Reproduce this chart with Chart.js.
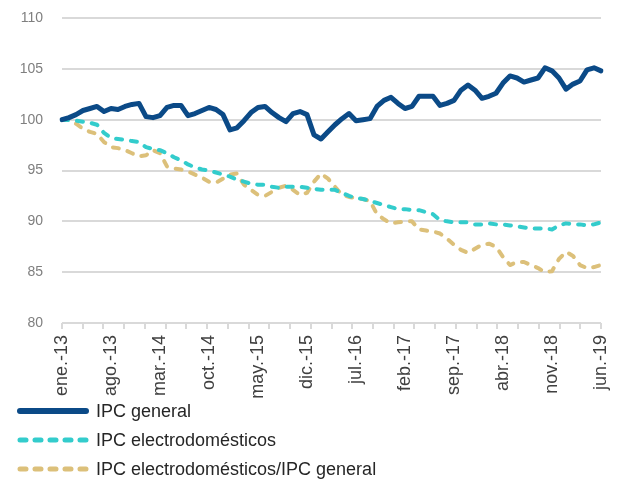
<!DOCTYPE html>
<html>
<head>
<meta charset="utf-8">
<script src="https://cdn.jsdelivr.net/npm/chart.js@4/dist/chart.umd.min.js"></script>
<style>
  html, body { margin: 0; padding: 0; background: #fff; }
</style>
</head>
<body>
<canvas id="chart" width="617" height="481"></canvas>
<script>
// ---- data ----
const monthNames = ["ene.", "feb.", "mar.", "abr.", "may.", "jun.", "jul.", "ago.", "sep.", "oct.", "nov.", "dic."];
const years = ["13", "14", "15", "16", "17", "18", "19"];
const labels = [];
years.forEach(function (yy, yi) {
  monthNames.forEach(function (m, mi) {
    if (yi < 6 || mi < 6) labels.push(m + "-" + yy);
  });
});

const ipcGeneral = [
  100.0, 100.2, 100.5, 100.9, 101.1, 101.3, 100.8, 101.1, 101.0, 101.3,
  101.5, 101.6, 100.3, 100.2, 100.4, 101.2, 101.4, 101.4, 100.4, 100.6,
  100.9, 101.2, 101.0, 100.5, 99.0, 99.2, 99.9, 100.7, 101.2, 101.3,
  100.7, 100.2, 99.8, 100.6, 100.8, 100.5, 98.5, 98.1, 98.8, 99.5,
  100.1, 100.6, 99.9, 100.0, 100.1, 101.3, 101.9, 102.2, 101.6, 101.1,
  101.3, 102.3, 102.3, 102.3, 101.4, 101.6, 101.9, 102.9, 103.4, 102.9,
  102.1, 102.3, 102.6, 103.6, 104.3, 104.1, 103.7, 103.9, 104.1, 105.1,
  104.8, 104.1, 103.0, 103.5, 103.8, 104.9, 105.1, 104.8
];
const ipcElectro = [
  100.0, 99.95, 99.9, 99.8, 99.7, 99.5, 98.7, 98.2, 98.1, 98.0,
  97.9, 97.8, 97.3, 97.1, 97.0, 96.7, 96.3, 96.0, 95.6, 95.3,
  95.1, 95.0, 94.8, 94.6, 94.4, 94.1, 93.9, 93.7, 93.6, 93.6,
  93.4, 93.3, 93.4, 93.4, 93.4, 93.3, 93.2, 93.1, 93.1, 93.1,
  92.8, 92.5, 92.3, 92.2, 92.0, 91.8, 91.6, 91.4, 91.2, 91.2,
  91.1, 91.1, 90.9, 90.7, 90.1, 90.0, 89.9, 89.9, 89.9, 89.7,
  89.7, 89.8, 89.7, 89.7, 89.6, 89.5, 89.4, 89.3, 89.3, 89.3,
  89.2, 89.6, 89.8, 89.7, 89.7, 89.6, 89.7, 89.9
];
const ratioElectroGeneral = [
  100.0, 100.0, 99.6, 99.1, 98.8, 98.6, 97.8, 97.3, 97.2, 97.0,
  96.7, 96.4, 96.5, 97.0, 96.7, 95.4, 95.2, 95.1, 94.9, 94.6,
  94.3, 93.9, 93.8, 94.2, 94.6, 94.7, 93.6, 93.1, 92.6, 92.5,
  92.9, 93.3, 93.5, 93.1, 92.6, 92.8, 93.9, 94.7, 94.2, 93.4,
  92.6, 92.4, 92.3, 92.2, 92.0, 90.7, 90.2, 89.8, 89.9, 90.0,
  90.0, 89.2, 89.1, 89.0, 88.8, 88.3, 87.7, 87.2, 86.9, 87.3,
  87.7, 87.8, 87.5, 86.5, 85.7, 86.0, 86.0, 85.7, 85.4, 85.0,
  85.1, 86.3, 87.0, 86.6, 85.7, 85.4, 85.5, 85.7
];
const seriesNames = ["IPC general", "IPC electrodomésticos", "IPC electrodomésticos/IPC general"];
const labelEvery = 7;   // one label every 7 months
const tickMarks = 26;   // tick mark intervals on the x axis

// ---- legend drawn under the axis, one row per series ----
const stackedLegend = {
  id: 'stackedLegend',
  afterDraw(chart) {
    const ctx = chart.ctx;
    chart.data.datasets.forEach(function (ds, i) {
      const y = 411 + i * 29;
      ctx.save();
      ctx.strokeStyle = ds.borderColor;
      ctx.lineWidth = ds.borderWidth + 1;
      ctx.lineCap = ds.borderCapStyle;
      ctx.setLineDash(ds.borderDash || []);
      ctx.beginPath();
      ctx.moveTo(20, y);
      ctx.lineTo(86, y);
      ctx.stroke();
      ctx.setLineDash([]);
      ctx.fillStyle = '#262626';
      ctx.font = '18px "Liberation Sans", Arial, sans-serif';
      ctx.textBaseline = 'middle';
      ctx.fillText(ds.label, 96, y + 1);
      ctx.restore();
    });
  }
};

// drop the automatic label paddings so the plot box sits where the reference has it
function noPad(s) {
  s.paddingTop = 0;
  s.paddingBottom = 0;
  s.paddingLeft = 0;
  s.paddingRight = 0;
}

const ctx = document.getElementById('chart');
new Chart(ctx, {
  type: 'line',
  data: {
    labels: labels,
    datasets: [
      {
        label: seriesNames[0],
        data: ipcGeneral,
        xAxisID: 'x',
        borderColor: '#0b4a87',
        borderWidth: 5,
        borderJoinStyle: 'round',
        borderCapStyle: 'round',
        pointRadius: 0,
        tension: 0
      },
      {
        label: seriesNames[1],
        data: ipcElectro,
        xAxisID: 'x',
        borderColor: '#33cccc',
        borderWidth: 4,
        borderDash: [6, 9],
        borderCapStyle: 'round',
        borderJoinStyle: 'round',
        pointRadius: 0,
        tension: 0
      },
      {
        label: seriesNames[2],
        data: ratioElectroGeneral,
        xAxisID: 'x',
        borderColor: '#dcc07a',
        borderWidth: 4,
        borderDash: [6, 9],
        borderCapStyle: 'round',
        borderJoinStyle: 'round',
        pointRadius: 0,
        tension: 0
      }
    ]
  },
  options: {
    responsive: false,
    animation: false,
    layout: { padding: { top: 18, right: 16, bottom: 0, left: 0 } },
    plugins: {
      legend: { display: false },
      tooltip: { enabled: false }
    },
    scales: {
      x: {
        position: 'bottom',
        weight: 1,
        ticks: {
          autoSkip: false,
          minRotation: 90,
          maxRotation: 90,
          padding: 6,
          color: '#404040',
          font: { family: '"Liberation Sans", Arial, sans-serif', size: 18 },
          callback: function (v, i) { return i % labelEvery === 0 ? labels[i] : ''; }
        },
        grid: { display: false, drawTicks: false },
        border: { display: false },
        afterFit: function (s) { s.height = 152; noPad(s); }
      },
      xt: {
        type: 'linear',
        position: 'bottom',
        min: 0,
        max: tickMarks,
        weight: 0,
        ticks: { display: false, stepSize: 1 },
        grid: { drawOnChartArea: false, color: '#d9d9d9', lineWidth: 2, tickLength: 6 },
        border: { display: false },
        afterFit: function (s) { s.height = 6; noPad(s); }
      },
      y: {
        min: 80,
        max: 110,
        ticks: {
          stepSize: 5,
          color: '#7f7f7f',
          padding: 19,
          font: { family: '"Liberation Sans", Arial, sans-serif', size: 14 }
        },
        grid: { color: '#d9d9d9', lineWidth: 2, drawTicks: false },
        border: { display: false },
        afterFit: function (s) { s.width = 62; noPad(s); }
      }
    }
  },
  plugins: [stackedLegend]
});
</script>
</body>
</html>
